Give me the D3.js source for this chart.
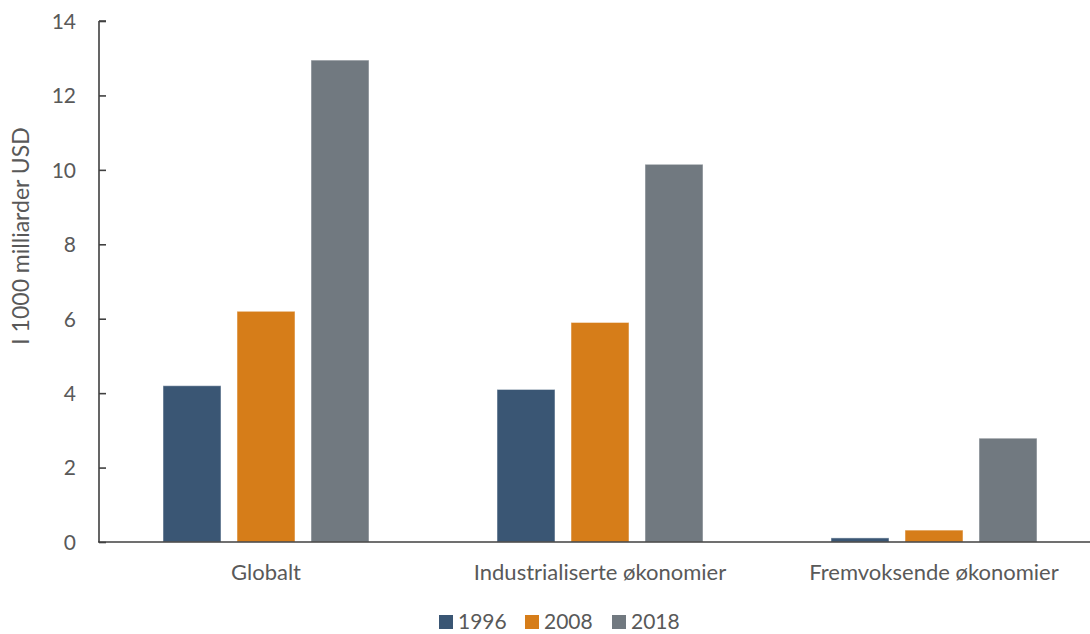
<!DOCTYPE html>
<html>
<head>
<meta charset="utf-8">
<script src="https://cdn.jsdelivr.net/npm/d3@7"></script>
<style>
  html, body { margin: 0; padding: 0; background: #ffffff; }
  svg { display: block; }
  text { font-family: Lato, "Open Sans", sans-serif; fill: #595959; }
</style>
</head>
<body>
<svg id="chart" width="1090" height="634"></svg>
<script>
const categories = ["Globalt", "Industrialiserte økonomier", "Fremvoksende økonomier"];
const seriesNames = ["1996", "2008", "2018"];
const values1996 = [4.2, 4.1, 0.11];
const values2008 = [6.2, 5.9, 0.32];
const values2018 = [12.95, 10.15, 2.79];
const yTicks = [0, 2, 4, 6, 8, 10, 12, 14];
const colors = ["#3a5674", "#d67d19", "#717980"];
const yLabel = "I 1000 milliarder USD";

const seriesValues = [values1996, values2008, values2018];
const data = categories.map((c, i) => ({
  cat: c,
  vals: seriesNames.map((s, j) => ({ key: s, value: seriesValues[j][i], color: colors[j] }))
}));

const svg = d3.select("#chart");
const margin = { left: 99, top: 21, bottom: 542 };
const plotRight = 1101;

const x = d3.scaleBand().domain(categories).range([margin.left, plotRight]).paddingInner(0).paddingOuter(0);
const x1 = d3.scaleBand().domain(seriesNames).range([0, 206]).paddingInner(16 / 74).paddingOuter(0);
const y = d3.scaleLinear().domain([0, 14]).range([margin.bottom, margin.top]);

// Bars
const groups = svg.append("g").selectAll("g").data(data).join("g")
  .attr("transform", d => `translate(${x(d.cat) + (x.bandwidth() - 206) / 2},0)`);
groups.selectAll("rect").data(d => d.vals).join("rect")
  .attr("x", d => x1(d.key))
  .attr("width", x1.bandwidth())
  .attr("y", d => y(d.value))
  .attr("height", d => y(0) - y(d.value))
  .attr("fill", d => d.color)
  .attr("stroke", "#ffffff")
  .attr("stroke-opacity", 0.5)
  .attr("stroke-width", 1);

// Y axis
const yAxis = d3.axisRight(y).tickValues(yTicks).tickSize(7).tickFormat(d3.format("d"));
const gy = svg.append("g").attr("transform", `translate(${margin.left},0)`).call(yAxis);
gy.select(".domain").attr("stroke", "#404040").attr("stroke-width", 1.6).attr("d", `M0,${margin.top}H7M0,${margin.top}V${margin.bottom}`);
gy.selectAll(".tick line").attr("stroke", "#404040").attr("stroke-width", 1.6);
gy.selectAll(".tick text")
  .attr("x", -23).attr("dy", "0.35em")
  .attr("text-anchor", "end")
  .style("font-size", "21px").style("fill", "#595959");

// X axis line
svg.append("line")
  .attr("x1", margin.left - 1).attr("x2", 1090)
  .attr("y1", y(0)).attr("y2", y(0))
  .attr("stroke", "#404040").attr("stroke-width", 1.6);

// Category labels
svg.append("g").selectAll("text").data(categories).join("text")
  .attr("x", d => x(d) + x.bandwidth() / 2)
  .attr("y", 580)
  .attr("text-anchor", "middle")
  .style("font-size", "22px")
  .text(d => d);

// Y label
svg.append("text")
  .attr("transform", `translate(29,236) rotate(-90)`)
  .attr("text-anchor", "middle")
  .style("font-size", "23px")
  .text(yLabel);

// Legend
const legendX = [439, 525, 612];
const lg = svg.append("g").selectAll("g").data(seriesNames).join("g")
  .attr("transform", (d, i) => `translate(${legendX[i]},615)`);
lg.append("rect").attr("width", 14).attr("height", 14).attr("fill", (d, i) => colors[i]);
lg.append("text").attr("x", 19).attr("y", 14)
  .style("font-size", "21px").text(d => d);
</script>
</body>
</html>
